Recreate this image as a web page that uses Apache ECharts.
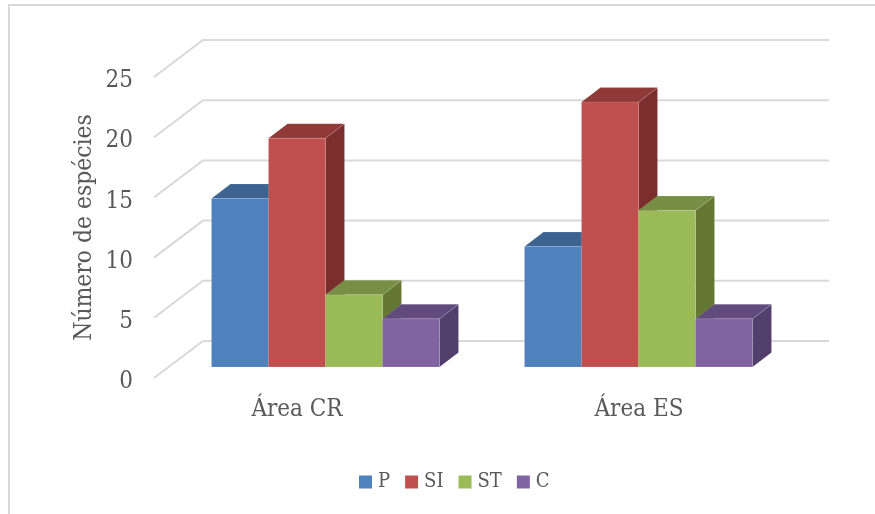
<!DOCTYPE html>
<html>
<head>
<meta charset="utf-8">
<style>html,body{margin:0;padding:0;background:#fff}#chart{width:875px;height:514px}</style>
<script src="https://cdn.jsdelivr.net/npm/echarts@6/dist/echarts.min.js"></script>
</head>
<body>
<div id="chart"></div>
<script>
// Species counts per successional group in each sampled area
const categories = ['Área CR', 'Área ES'];
const valueTicks = [0, 5, 10, 15, 20, 25];
const seriesP = [14, 10];
const seriesSI = [19, 22];
const seriesST = [6, 13];
const seriesC = [4, 4];

const groups = [
  { name: 'P', values: seriesP, front: '#4f81bd', top: '#3d6490', side: '#385d8a' },
  { name: 'SI', values: seriesSI, front: '#c0504d', top: '#8f3a38', side: '#7b2f2d' },
  { name: 'ST', values: seriesST, front: '#9bbb59', top: '#778f45', side: '#647733' },
  { name: 'C', values: seriesC, front: '#8064a2', top: '#604b7c', side: '#523f6b' }
];

const fontName = '"DejaVu Serif Condensed", "DejaVu Serif", serif';
const textColor = '#595959';
const gridColor = '#d9d9d9';

// Oblique projection: wall depth, the inset of the bars and their own depth
const wall = { dx: 49, dy: -37 };
const inset = { dx: 15, dy: -11 };
const depth = { dx: 19, dy: -14.5 };
const barRatio = 57 / 313;

function poly(points, fill, stroke) {
  return {
    type: 'polygon',
    shape: { points: points },
    style: { fill: fill, stroke: stroke, lineWidth: 0.8 }
  };
}

function barSeries(group, index) {
  return {
    name: group.name,
    type: 'custom',
    coordinateSystem: 'cartesian2d',
    clip: false,
    z: 3 + index,
    itemStyle: { color: group.front },
    encode: { x: 0, y: 1 },
    data: group.values.map((v, i) => [i, v]),
    renderItem(params, api) {
      const width = api.size([1, 0])[0] * barRatio;
      const top = api.coord([api.value(0), api.value(1)]);
      const base = api.coord([api.value(0), 0]);
      const x0 = top[0] + inset.dx + (index - 2) * width;
      const x1 = x0 + width;
      const y0 = top[1] + inset.dy;
      const y1 = base[1] + inset.dy;
      const edge = 'rgba(255,255,255,0.14)';
      return {
        type: 'group',
        children: [
          poly([[x1, y0], [x1 + depth.dx, y0 + depth.dy], [x1 + depth.dx, y1 + depth.dy], [x1, y1]], group.side, edge),
          poly([[x0, y0], [x0 + depth.dx, y0 + depth.dy], [x1 + depth.dx, y0 + depth.dy], [x1, y0]], group.top, edge),
          poly([[x0, y0], [x1, y0], [x1, y1], [x0, y1]], group.front, edge)
        ]
      };
    }
  };
}

const wallSeries = {
  name: 'grid',
  type: 'custom',
  coordinateSystem: 'cartesian2d',
  clip: false,
  silent: true,
  z: 1,
  encode: { x: 0, y: 1 },
  data: valueTicks.map(v => [0, v]),
  renderItem(params, api) {
    const y = api.coord([0, api.value(1)])[1];
    const cs = params.coordSys;
    return {
      type: 'polyline',
      shape: {
        points: [
          [cs.x, y],
          [cs.x + wall.dx, y + wall.dy],
          [cs.x + cs.width + wall.dx, y + wall.dy]
        ]
      },
      style: { fill: null, stroke: gridColor, lineWidth: 2 }
    };
  }
};

const chart = echarts.init(document.getElementById('chart'), null, { renderer: 'canvas' });
chart.setOption({
  animation: false,
  backgroundColor: '#ffffff',
  textStyle: { fontFamily: fontName },
  grid: { left: 154, right: 95, top: 77, bottom: 136 },
  graphic: [
    {
      type: 'polyline',
      silent: true,
      shape: { points: [[9, 514], [9, 5], [875, 5]] },
      style: { fill: null, stroke: gridColor, lineWidth: 2 }
    }
  ],
  legend: {
    left: 354,
    top: 467,
    icon: 'rect',
    itemWidth: 13,
    itemHeight: 13,
    itemGap: 15,
    itemStyle: { borderWidth: 0 },
    data: groups.map(g => g.name),
    textStyle: { color: textColor, fontFamily: fontName, fontSize: 20, padding: [0, 0, 0, 1] }
  },
  xAxis: {
    type: 'category',
    data: categories,
    axisLine: { show: false },
    axisTick: { show: false },
    splitLine: { show: false },
    axisLabel: {
      margin: 20,
      interval: 0,
      formatter: (v, i) => (i === 0 ? '{a|' + v + '}' : '{b|' + v + '}'),
      rich: {
        a: { color: textColor, fontFamily: fontName, fontSize: 24, padding: [0, 27, 0, 0] },
        b: { color: textColor, fontFamily: fontName, fontSize: 24, padding: [0, 0, 0, 31] }
      }
    }
  },
  yAxis: {
    type: 'value',
    min: 0,
    max: 25,
    interval: 5,
    name: 'Número de espécies',
    nameLocation: 'middle',
    nameRotate: 90,
    nameGap: 57,
    nameMoveOverlap: false,
    nameTextStyle: { color: textColor, fontFamily: fontName, fontSize: 24.4 },
    axisLine: { show: false },
    axisTick: { show: false },
    splitLine: { show: false },
    axisLabel: {
      margin: 21,
      formatter: v => '{t|' + v + '}',
      rich: { t: { color: textColor, fontFamily: fontName, fontSize: 24, padding: [8, 0, 0, 0] } }
    }
  },
  series: [wallSeries].concat(groups.map(barSeries))
});
</script>
</body>
</html>
